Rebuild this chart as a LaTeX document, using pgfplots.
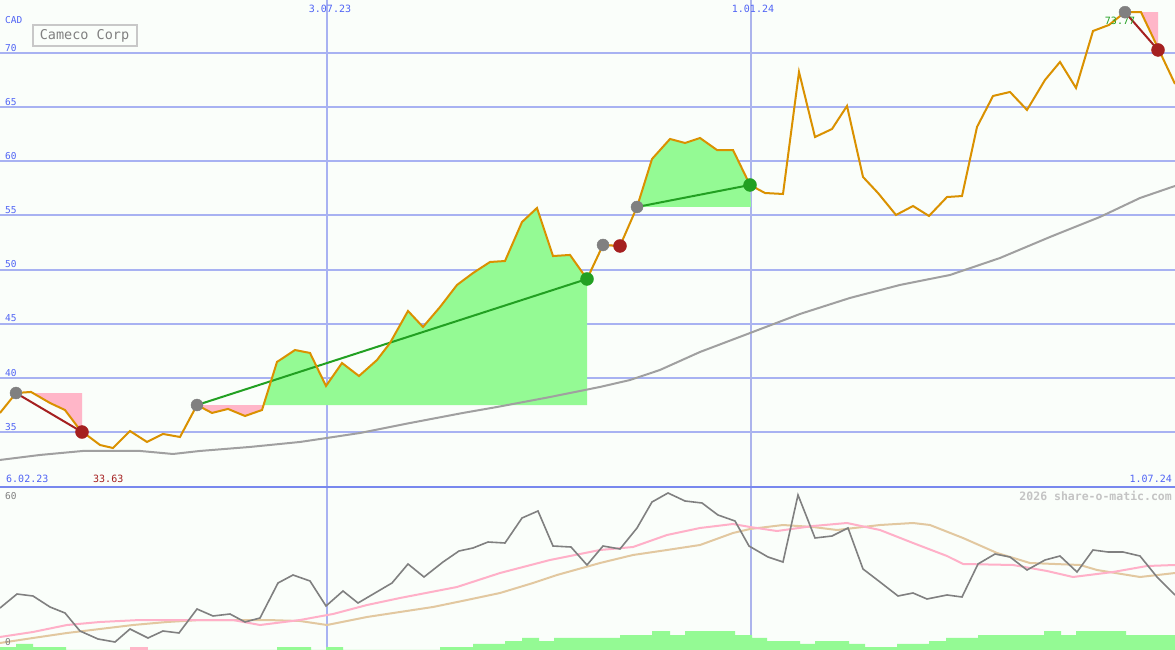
\documentclass[border=0pt]{standalone}
\usepackage{fontspec}
\setmainfont{DejaVu Sans Mono}
\usepackage{pgfplots}
\pgfplotsset{compat=1.18}

\definecolor{bg}{RGB}{250,254,250}
\definecolor{gridblue}{RGB}{168,178,242}
\definecolor{gridblue2}{RGB}{172,180,236}
\definecolor{sepblue}{RGB}{120,136,238}
\definecolor{labblue}{RGB}{80,100,245}
\definecolor{price}{RGB}{218,145,0}
\definecolor{magray}{RGB}{160,160,160}
\definecolor{osc}{RGB}{128,128,128}
\definecolor{oscpink}{RGB}{255,176,200}
\definecolor{osctan}{RGB}{226,200,160}
\definecolor{gfill}{RGB}{148,250,148}
\definecolor{pfill}{RGB}{255,182,200}
\definecolor{dotgray}{RGB}{128,128,128}
\definecolor{dotred}{RGB}{165,32,32}
\definecolor{dotgreen}{RGB}{34,160,34}

\tikzset{ylab/.style={anchor=south west, inner sep=0pt, yshift=1.5pt,
    font=\fontsize{9.5}{10}\selectfont, text=labblue}}

\begin{document}
\begin{tikzpicture}
\useasboundingbox (0,0) rectangle (1175pt,650pt);
\fill[bg] (0,0) rectangle (1175pt,650pt);

% ---------------- price panel ----------------
\begin{axis}[
    at={(0pt,163pt)}, anchor=south west,
    scale only axis, width=1175pt, height=487pt,
    xmin=0, xmax=1175, ymin=29.922, ymax=74.894,
    axis line style={draw=none}, tick style={draw=none},
    xtick={327}, ytick={35,40,...,70},
    xticklabels={}, yticklabels={},
    xmajorgrids, ymajorgrids,
    major grid style={gridblue, line width=2pt},
    extra x ticks={751}, extra x tick labels={},
    extra x tick style={major grid style={gridblue2, line width=1.2pt}},
]
% trade areas
\addplot[fill=pfill, draw=none] coordinates {
    (33,38.60) (50,37.68) (65,37.03) (80,35.19) (82,35.0) (82,38.60)};
\addplot[fill=gfill, draw=none] coordinates {
    (16,38.60) (31,38.70) (33,38.60)};
\addplot[fill=pfill, draw=none] coordinates {
    (197,37.49) (212,36.76) (228,37.13) (245,36.48) (262,37.03) (263.6,37.49)};
\addplot[fill=gfill, draw=none] coordinates {
    (263.6,37.49) (277,41.47) (295,42.57) (310,42.30) (326,39.25) (342,41.37)
    (359,40.17) (377,41.65) (390,43.22) (408,46.18) (423,44.70) (440,46.54)
    (457,48.58) (473,49.68) (490,50.70) (505,50.79) (522,54.39) (537,55.69)
    (553,51.25) (570,51.35) (587,49.13) (587,37.49)};
\addplot[fill=gfill, draw=none] coordinates {
    (637,55.78) (652,60.21) (670,62.06) (685,61.69) (700,62.15) (717,61.04)
    (733,61.04) (750,57.81) (751,55.78)};
\addplot[fill=pfill, draw=none] coordinates {
    (1141,73.77) (1158,70.46) (1158,73.77)};

% long moving average
\addplot[magray, line width=2pt] coordinates {
    (0,32.42) (40,32.88) (83,33.25) (140,33.25) (173,32.97) (200,33.25)
    (250,33.62) (300,34.08) (327,34.45) (360,34.91) (410,35.83) (463,36.76)
    (497,37.31) (550,38.23) (600,39.16) (630,39.80) (660,40.73) (700,42.39)
    (750,44.14) (800,45.90) (850,47.38) (900,48.58) (950,49.50) (1000,51.07)
    (1050,53.01) (1100,54.86) (1140,56.61) (1175,57.72)};

% entry-exit lines
\addplot[dotred, line width=2pt] coordinates {(16,38.60) (82,35.0)};
\addplot[dotgreen, line width=2pt] coordinates {(197,37.49) (587,49.13)};
\addplot[pfill, line width=2pt] coordinates {(603,52.27) (620,52.18)};
\addplot[dotgreen, line width=2pt] coordinates {(637,55.78) (750,57.81)};
\addplot[dotred, line width=2pt] coordinates {(1125,73.77) (1158,70.28)};

% price
\addplot[price, line width=2pt] coordinates {
    (0,36.76) (16,38.60) (31,38.70) (50,37.68) (65,37.03) (80,35.19)
    (100,33.80) (113,33.52) (130,35.09) (147,34.08) (163,34.82) (180,34.54)
    (197,37.49) (212,36.76) (228,37.13) (245,36.48) (262,37.03) (277,41.47)
    (295,42.57) (310,42.30) (326,39.25) (342,41.37) (359,40.17) (377,41.65)
    (390,43.22) (408,46.18) (423,44.70) (440,46.54) (457,48.58) (473,49.68)
    (490,50.70) (505,50.79) (522,54.39) (537,55.69) (553,51.25) (570,51.35)
    (587,49.13) (603,52.27) (620,52.18) (637,55.78) (652,60.21) (670,62.06)
    (685,61.69) (700,62.15) (717,61.04) (733,61.04) (750,57.81) (765,57.07)
    (783,56.98) (799,68.25) (815,62.24) (832,62.98) (847,65.11) (863,58.55)
    (878,57.07) (896,55.04) (913,55.87) (929,54.95) (947,56.70) (962,56.79)
    (977,63.17) (993,66.03) (1010,66.40) (1027,64.74) (1045,67.51) (1060,69.17)
    (1076,66.77) (1093,72.03) (1109,72.59) (1125,73.77) (1141,73.77)
    (1158,70.46) (1175,67.14)};

% trade markers
\addplot[only marks, mark=*, mark size=6pt, mark options={draw=dotgray, fill=dotgray}] coordinates {
    (16,38.60) (197,37.49) (603,52.27) (637,55.78) (1125,73.77)};
\addplot[only marks, mark=*, mark size=6.5pt, mark options={draw=dotred, fill=dotred}] coordinates {
    (82,35.0) (620,52.18) (1158,70.28)};
\addplot[only marks, mark=*, mark size=6.5pt, mark options={draw=dotgreen, fill=dotgreen}] coordinates {
    (587,49.13) (750,57.81)};

% labels
\node[ylab] at (axis cs:5,70) {70};
\node[ylab] at (axis cs:5,65) {65};
\node[ylab] at (axis cs:5,60) {60};
\node[ylab] at (axis cs:5,55) {55};
\node[ylab] at (axis cs:5,50) {50};
\node[ylab] at (axis cs:5,45) {45};
\node[ylab] at (axis cs:5,40) {40};
\node[ylab] at (axis cs:5,35) {35};
\node[anchor=west, inner sep=0pt, font=\fontsize{9.5}{10}\selectfont, text=labblue] at (axis cs:5,73.05) {CAD};
\node[inner sep=0pt, font=\fontsize{10}{11}\selectfont, text=labblue] at (axis cs:330,74.06) {3.07.23};
\node[inner sep=0pt, font=\fontsize{10}{11}\selectfont, text=labblue] at (axis cs:753,74.06) {1.01.24};
\node[anchor=west, inner sep=0pt, font=\fontsize{10}{11}\selectfont, text=labblue] at (axis cs:6,30.66) {6.02.23};
\node[anchor=west, inner sep=0pt, font=\fontsize{10}{11}\selectfont, text=dotred] at (axis cs:93,30.66) {33.63};
\node[anchor=east, inner sep=0pt, font=\fontsize{10}{11}\selectfont, text=labblue] at (axis cs:1172,30.66) {1.07.24};
\node[inner sep=0pt, font=\fontsize{10}{11}\selectfont, text=dotgreen] at (axis cs:1120,72.95) {73.77};
\node[draw={rgb,255:red,200;green,200;blue,200}, line width=2pt, fill=bg,
      minimum width=104pt, minimum height=21pt, inner sep=0pt,
      font=\fontsize{13.5}{14}\selectfont, text=osc] at (axis cs:84.5,71.57) {Cameco Corp};
\end{axis}

% ---------------- oscillator panel ----------------
\begin{axis}[
    at={(0pt,0pt)}, anchor=south west,
    scale only axis, width=1175pt, height=163pt,
    xmin=0, xmax=1175, ymin=0, ymax=60,
    axis line style={draw=none}, tick style={draw=none},
    xtick={327}, ytick=\empty, xticklabels={},
    xmajorgrids, major grid style={gridblue, line width=2pt},
    extra x ticks={751}, extra x tick labels={},
    extra x tick style={major grid style={gridblue2, line width=1.2pt}},
]
\addplot[ybar interval, fill=gfill, draw=none] coordinates {
    (0,1.10) (16,2.21) (33,1.10) (66,0) (277,1.10) (311,0) (326,1.10) (343,0)
    (440,1.10) (473,2.21) (505,3.31) (522,4.42) (539,3.31) (554,4.42) (620,5.52)
    (652,6.99) (670,5.52) (685,6.99) (735,5.52) (752,4.42) (767,3.31) (800,2.21)
    (815,3.31) (849,2.21) (865,1.10) (897,2.21) (929,3.31) (946,4.42) (978,5.52)
    (1044,6.99) (1061,5.52) (1076,6.99) (1126,5.52) (1175,0)};
\addplot[ybar interval, fill=pfill, draw=none] coordinates {(130,1.10) (148,0)};

\addplot[osctan, line width=2pt] coordinates {
    (0,2.58) (33,4.42) (67,6.26) (100,7.73) (133,9.20) (167,10.31) (200,11.04)
    (267,11.04) (300,10.67) (327,9.20) (367,12.15) (400,13.99) (433,15.83)
    (467,18.41) (500,20.98) (533,24.66) (557,27.61) (600,32.02) (633,34.97)
    (667,36.81) (700,38.65) (733,43.07) (750,44.54) (783,46.01) (813,45.28)
    (837,44.17) (880,46.01) (913,46.75) (930,46.01) (963,41.23) (997,35.71)
    (1030,32.02) (1080,31.29) (1097,29.45) (1140,26.87) (1175,28.34)};
\addplot[oscpink, line width=2pt] coordinates {
    (0,4.79) (33,6.63) (67,9.20) (100,10.31) (140,11.04) (233,11.04) (260,9.20)
    (300,11.04) (333,13.25) (367,16.56) (400,19.14) (457,23.19) (500,28.34)
    (550,33.13) (600,36.81) (633,37.91) (667,42.33) (700,44.91) (733,46.38)
    (750,45.28) (777,43.80) (813,45.64) (847,46.75) (880,44.17) (913,39.39)
    (947,34.60) (963,31.66) (1013,31.29) (1047,29.08) (1073,26.87) (1113,28.71)
    (1147,30.92) (1175,31.29)};
\addplot[osc, line width=1.6pt] coordinates {
    (0,15.46) (17,20.61) (33,19.88) (50,15.83) (65,13.62) (80,6.99) (98,4.05)
    (115,2.94) (130,7.73) (148,4.42) (163,6.99) (179,6.26) (197,15.09) (213,12.52)
    (230,13.25) (245,10.31) (260,11.78) (278,24.66) (293,27.61) (310,25.40)
    (326,16.20) (343,21.72) (358,17.30) (375,20.98) (392,24.66) (408,31.66)
    (424,26.87) (443,32.39) (459,36.44) (473,37.55) (488,39.75) (505,39.39)
    (522,48.59) (538,51.17) (553,38.28) (571,37.91) (587,31.29) (603,38.28)
    (620,37.18) (637,44.91) (652,54.48) (668,57.79) (685,54.85) (702,54.11)
    (718,49.69) (735,47.48) (749,38.28) (768,34.23) (783,32.39) (798,57.06)
    (815,41.23) (832,41.96) (848,44.91) (863,29.82) (880,25.03) (898,19.88)
    (913,20.98) (927,18.77) (947,20.25) (962,19.51) (978,31.66) (995,35.34)
    (1010,34.23) (1027,29.45) (1045,33.13) (1060,34.60) (1077,28.71) (1093,36.81)
    (1108,36.07) (1123,36.07) (1140,34.60) (1157,26.87) (1175,20.25)};

\node[anchor=west, inner sep=0pt, font=\fontsize{9.5}{10}\selectfont, text=osc] at (axis cs:5,56.7) {60};
\node[anchor=west, inner sep=0pt, font=\fontsize{9.5}{10}\selectfont, text=osc] at (axis cs:5,2.9) {0};
\node[anchor=east, inner sep=0pt, font=\bfseries\fontsize{11.5}{12}\selectfont,
      text={rgb,255:red,196;green,196;blue,196}] at (axis cs:1172,56.7) {2026 share-o-matic.com};
\end{axis}

\draw[sepblue, line width=2.5pt] (0,163pt) -- (1175pt,163pt);
\end{tikzpicture}
\end{document}
